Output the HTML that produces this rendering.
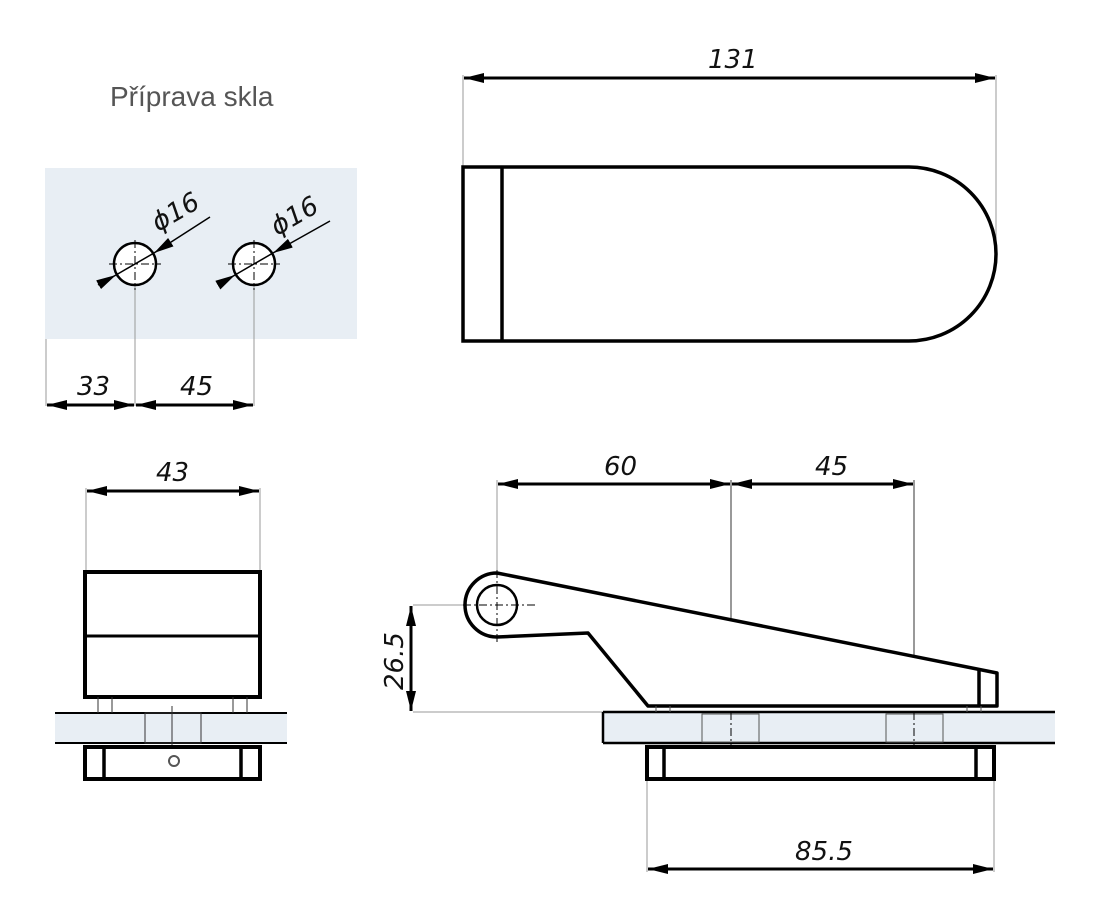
<!DOCTYPE html>
<html><head><meta charset="utf-8"><style>
html,body{margin:0;padding:0;background:#fff}
svg{display:block}
text{font-family:"DejaVu Sans","Liberation Sans",sans-serif;font-style:italic;fill:#111}
</style></head><body>
<svg width="1098" height="913" viewBox="0 0 1098 913" xmlns="http://www.w3.org/2000/svg">
<defs>
<marker id="a" viewBox="0 0 20 10" refX="20" refY="5" markerWidth="20" markerHeight="10" markerUnits="userSpaceOnUse" orient="auto-start-reverse"><path d="M0,0 L20,5 L0,10 z" fill="#000"/></marker>
</defs>
<text x="110" y="106" style="font-style:normal;font-family:'Liberation Sans',sans-serif;font-size:28px;fill:#555">Příprava skla</text>

<rect x="45" y="168" width="312" height="171" fill="#e8eef4"/>
<g stroke="#999" stroke-width="1" fill="none">
<line x1="46" y1="339" x2="46" y2="406"/>
<line x1="135" y1="285" x2="135" y2="406"/>
<line x1="254" y1="285" x2="254" y2="406"/>
</g>
<g stroke="#000" fill="#fff" stroke-width="2.5">
<circle cx="135" cy="264" r="21"/>
<circle cx="254" cy="264" r="21"/>
</g>
<g stroke="#000" stroke-width="1" stroke-dasharray="8,3,2,3">
<line x1="109" y1="264" x2="161" y2="264"/><line x1="135" y1="240" x2="135" y2="290"/>
<line x1="228" y1="264" x2="280" y2="264"/><line x1="254" y1="240" x2="254" y2="290"/>
</g>
<g stroke="#000" stroke-width="1.5">
<line x1="98" y1="285" x2="116" y2="275" marker-end="url(#a)"/>
<line x1="116" y1="275" x2="154" y2="253"/>
<line x1="210" y1="217" x2="154" y2="253" marker-end="url(#a)"/>
<line x1="218" y1="285" x2="235" y2="275" marker-end="url(#a)"/>
<line x1="235" y1="275" x2="273" y2="253"/>
<line x1="330" y1="221" x2="273" y2="253" marker-end="url(#a)"/>
</g>
<text x="158" y="232" font-size="26" transform="rotate(-30 158 232)">ϕ16</text>
<text x="277" y="236" font-size="26" transform="rotate(-30 277 236)">ϕ16</text>
<g stroke="#000" stroke-width="3">
<line x1="47" y1="405" x2="134" y2="405" marker-start="url(#a)" marker-end="url(#a)"/>
<line x1="136" y1="405" x2="253" y2="405" marker-start="url(#a)" marker-end="url(#a)"/>
</g>
<text x="77" y="395" font-size="26">33</text>
<text x="180" y="395" font-size="26">45</text>

<g stroke="#999" stroke-width="1">
<line x1="463" y1="75" x2="463" y2="167"/>
<line x1="996" y1="75" x2="996" y2="254"/>
</g>
<line x1="464" y1="78" x2="995" y2="78" stroke="#000" stroke-width="3" marker-start="url(#a)" marker-end="url(#a)"/>
<text x="708" y="68" font-size="26">131</text>
<path d="M463,167 H909 A87,87 0 0 1 909,341 H463 Z" fill="none" stroke="#000" stroke-width="3.5"/>
<line x1="502" y1="167" x2="502" y2="341" stroke="#000" stroke-width="3.5"/>

<g stroke="#999" stroke-width="1">
<line x1="86" y1="488" x2="86" y2="572"/>
<line x1="260" y1="488" x2="260" y2="572"/>
</g>
<line x1="87" y1="491" x2="259" y2="491" stroke="#000" stroke-width="3" marker-start="url(#a)" marker-end="url(#a)"/>
<text x="156" y="481" font-size="26">43</text>
<rect x="85" y="572" width="175" height="125" fill="#fff" stroke="#000" stroke-width="4"/>
<line x1="85" y1="636" x2="260" y2="636" stroke="#000" stroke-width="3"/>
<rect x="55" y="713" width="232" height="31" fill="#e8eef4"/>
<line x1="55" y1="713" x2="287" y2="713" stroke="#000" stroke-width="2"/>
<line x1="55" y1="743" x2="287" y2="743" stroke="#000" stroke-width="2"/>
<g stroke="#333" stroke-width="1" fill="none">
<rect x="145" y="713" width="56" height="30"/>
<line x1="172" y1="706" x2="172" y2="752"/>
<line x1="98" y1="697" x2="98" y2="713"/><line x1="112" y1="697" x2="112" y2="713"/>
<line x1="233" y1="697" x2="233" y2="713"/><line x1="247" y1="697" x2="247" y2="713"/>
</g>
<rect x="85" y="747" width="175" height="32" fill="#fff" stroke="#000" stroke-width="4"/>
<line x1="104" y1="747" x2="104" y2="779" stroke="#000" stroke-width="3.5"/>
<line x1="241" y1="747" x2="241" y2="779" stroke="#000" stroke-width="3.5"/>
<circle cx="174" cy="761" r="5" fill="none" stroke="#555" stroke-width="2"/>

<g stroke="#999" stroke-width="1">
<line x1="497" y1="480" x2="497" y2="573"/>
<line x1="413" y1="605" x2="463" y2="605"/>
<line x1="413" y1="712" x2="603" y2="712"/>
<line x1="647" y1="780" x2="647" y2="872"/>
<line x1="994" y1="780" x2="994" y2="872"/>
</g>
<g stroke="#333" stroke-width="1">
<line x1="731" y1="480" x2="731" y2="700"/>
<line x1="914" y1="480" x2="914" y2="700"/>
</g>
<g stroke="#000" stroke-width="3">
<line x1="498" y1="484" x2="730" y2="484" marker-start="url(#a)" marker-end="url(#a)"/>
<line x1="732" y1="484" x2="913" y2="484" marker-start="url(#a)" marker-end="url(#a)"/>
<line x1="411" y1="606" x2="411" y2="711" marker-start="url(#a)" marker-end="url(#a)"/>
<line x1="648" y1="869" x2="993" y2="869" marker-start="url(#a)" marker-end="url(#a)"/>
</g>
<text x="604" y="475" font-size="26">60</text>
<text x="815" y="475" font-size="26">45</text>
<text x="795" y="860" font-size="26">85.5</text>
<text x="403" y="690" font-size="26" transform="rotate(-90 403 690)">26.5</text>

<path d="M497,573 L997,673 L997,706 L648,706 L588,633 L497,637 A32,32 0 0 1 497,573 Z" fill="#fff" stroke="#000" stroke-width="3.5" stroke-linejoin="round"/>
<line x1="979" y1="670" x2="979" y2="706" stroke="#000" stroke-width="3.5"/>
<circle cx="497" cy="605" r="20" fill="none" stroke="#000" stroke-width="2.5"/>
<g stroke="#000" stroke-width="1" stroke-dasharray="8,3,2,3">
<line x1="463" y1="605" x2="535" y2="605"/><line x1="497" y1="570" x2="497" y2="642"/>
</g>
<rect x="603" y="712" width="452" height="31" fill="#e8eef4"/>
<path d="M603,712 H1055 M603,743 H1055 M603,712 V743" stroke="#000" stroke-width="2.5" fill="none"/>
<g stroke="#555" stroke-width="1" fill="none">
<rect x="702" y="714" width="57" height="28"/>
<rect x="886" y="714" width="57" height="28"/>
<line x1="656" y1="706" x2="656" y2="712"/><line x1="670" y1="706" x2="670" y2="712"/>
<line x1="967" y1="706" x2="967" y2="712"/><line x1="981" y1="706" x2="981" y2="712"/>
<line x1="731" y1="712" x2="731" y2="752" stroke-dasharray="8,3,2,3" stroke="#000"/>
<line x1="914" y1="712" x2="914" y2="752" stroke-dasharray="8,3,2,3" stroke="#000"/>
</g>
<rect x="647" y="747" width="347" height="32" fill="#fff" stroke="#000" stroke-width="4"/>
<line x1="664" y1="747" x2="664" y2="779" stroke="#000" stroke-width="3.5"/>
<line x1="976" y1="747" x2="976" y2="779" stroke="#000" stroke-width="3.5"/>
</svg>
</body></html>
